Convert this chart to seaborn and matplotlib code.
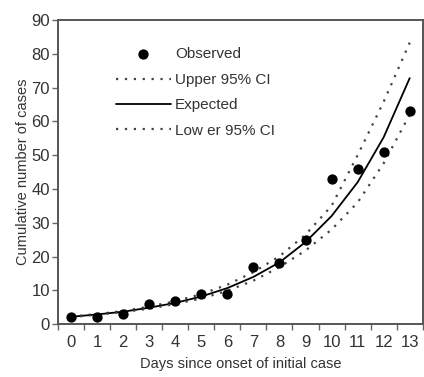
import numpy as np
import pandas as pd
import seaborn as sns
import matplotlib.pyplot as plt
from matplotlib.ticker import FixedLocator

days = list(range(14))
observed = [2, 2, 3, 6, 7, 9, 9, 17, 18, 25, 43, 46, 51, 63]
expected = [2.2, 2.9, 3.7, 4.9, 6.3, 8.2, 10.7, 14.0, 18.3, 24.3, 32.0, 42.0, 55.3, 72.8]
upper_ci = [2.3, 3.0, 3.9, 5.2, 6.8, 8.9, 11.7, 15.4, 20.1, 26.5, 35.0, 50.0, 65.8, 83.3]
lower_ci = [2.1, 2.8, 3.6, 4.6, 6.0, 7.6, 9.9, 12.9, 16.9, 21.8, 28.0, 36.0, 47.6, 62.0]

df = pd.DataFrame({"day": days, "observed": observed, "expected": expected,
                   "upper": upper_ci, "lower": lower_ci})

sns.set_style("white")
plt.rcParams['font.family'] = ['Liberation Sans', 'DejaVu Sans']

fig = plt.figure(figsize=(4.24, 3.77), dpi=100)
ax = fig.add_axes([0.137, 0.140, 0.860, 0.807])

sns.scatterplot(data=df, x="day", y="observed", ax=ax, color="black", s=55,
                edgecolor="black", linewidth=0, label="Observed", zorder=3)
sns.lineplot(data=df, x="day", y="upper", ax=ax, color="#444444", lw=1.6,
             linestyle=(0, (1, 3)), label="Upper 95% CI")
sns.lineplot(data=df, x="day", y="expected", ax=ax, color="black", lw=1.3,
             label="Expected")
sns.lineplot(data=df, x="day", y="lower", ax=ax, color="#444444", lw=1.6,
             linestyle=(0, (1, 3)), label="Low er 95% CI")

ax.set_xlim(-0.5, 13.5)
ax.set_ylim(0, 90)
ax.set_xticks(days)
ax.xaxis.set_minor_locator(FixedLocator(np.arange(-0.5, 14, 1)))
ax.set_yticks(range(0, 91, 10))
ax.tick_params(axis="x", which="major", bottom=True, length=0, pad=8, labelsize=12,
               colors="#333333")
ax.tick_params(axis="x", which="minor", bottom=True, length=4, width=1,
               direction="out", color="#666666")
ax.tick_params(axis="y", left=True, length=4, width=1, direction="out", pad=2,
               labelsize=12, color="#666666", labelcolor="#333333")

for sp in ax.spines.values():
    sp.set_color("#555555")
    sp.set_linewidth(1.4)

ax.set_xlabel("Days since onset of initial case", fontsize=10.5, color="#333333", labelpad=5)
ax.set_ylabel("Cumulative number of cases", fontsize=10.5, color="#333333", labelpad=1)

leg = ax.legend(loc="upper left", bbox_to_anchor=(0.12, 0.955), frameon=False,
                fontsize=11, labelspacing=0.75, handlelength=3.6, handletextpad=0.3,
                markerscale=1.0)
for t in leg.get_texts():
    t.set_color("#333333")

fig.savefig("out.png", dpi=100)
